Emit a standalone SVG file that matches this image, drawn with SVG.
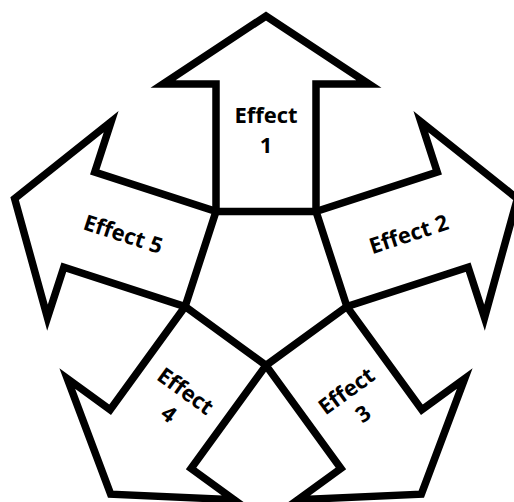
<svg xmlns="http://www.w3.org/2000/svg" width="514" height="502" viewBox="0 0 514 502">
<style>
.arrow{fill:none;stroke:#000;stroke-width:7.5;stroke-linejoin:miter;stroke-miterlimit:10}
.lbl{font-family:"Open Sans","Liberation Sans",sans-serif;font-weight:bold;font-size:22px;fill:#000;text-anchor:middle}
</style>
<defs>
<polygon id="arrowShape" points="-50,-68.82 -50,-196.3 -103,-196.3 0,-264.3 103,-196.3 50,-196.3 50,-68.82"/>
</defs>
<rect width="514" height="502" fill="#fff"/>
<g transform="translate(266,280.3)">
<g id="connectors"></g>
<g id="effect1">
<use href="#arrowShape" class="arrow"/>
<text class="lbl" x="0" y="-157.3">Effect</text>
<text class="lbl" x="0" y="-127.3">1</text>
</g>
<g id="effect2">
<use href="#arrowShape" class="arrow" transform="rotate(72)"/>
<text class="lbl" transform="rotate(-18)" x="150" y="8">Effect 2</text>
</g>
<g id="effect3">
<use href="#arrowShape" class="arrow" transform="rotate(144)"/>
<g transform="rotate(-36)">
<text class="lbl" x="0" y="144.6">Effect</text>
<text class="lbl" x="0" y="172.8">3</text>
</g>
</g>
<g id="effect4">
<use href="#arrowShape" class="arrow" transform="rotate(216)"/>
<g transform="rotate(36)">
<text class="lbl" x="0" y="144.6">Effect</text>
<text class="lbl" x="0" y="172.8">4</text>
</g>
</g>
<g id="effect5">
<use href="#arrowShape" class="arrow" transform="rotate(288)"/>
<text class="lbl" transform="rotate(18)" x="-150" y="8">Effect 5</text>
</g>
</g>
</svg>
